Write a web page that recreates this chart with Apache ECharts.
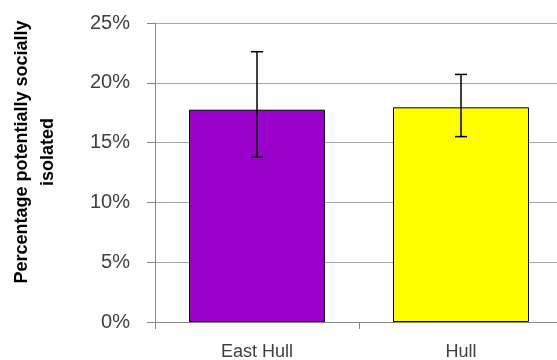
<!DOCTYPE html>
<html>
<head>
<meta charset="utf-8">
<script src="https://cdn.jsdelivr.net/npm/echarts@6/dist/echarts.min.js"></script>
<style>html,body{margin:0;padding:0;background:#fff;overflow:hidden}#c{width:563px;height:360px}</style>
</head>
<body>
<div id="c"></div>
<script>
const categories = ['East Hull', 'Hull'];
const values = [17.75, 17.95];
const errLow = [13.8, 15.5];
const errHigh = [22.6, 20.7];
const barColors = ['#9900CC', '#FFFF00'];
const yTicks = [0, 5, 10, 15, 20, 25];

const chart = echarts.init(document.getElementById('c'), null, {renderer: 'canvas'});
const axisGrey = '#888888';
chart.setOption({
  animation: false,
  backgroundColor: '#ffffff',
  grid: {left: 155, top: 23, right: 0, bottom: 38, outerBoundsMode: 'none'},
  xAxis: {
    type: 'category',
    data: categories,
    axisLine: {show: true, lineStyle: {color: axisGrey, width: 1}},
    axisTick: {show: true, length: 7, lineStyle: {color: axisGrey}},
    axisLabel: {color: '#404040', fontSize: 18, fontFamily: 'Liberation Sans', margin: 21}
  },
  yAxis: {
    type: 'value',
    min: yTicks[0], max: yTicks[yTicks.length - 1], interval: 5,
    axisLine: {show: true, lineStyle: {color: axisGrey, width: 1}},
    axisTick: {show: true, length: 8, lineStyle: {color: axisGrey}},
    splitLine: {show: true, lineStyle: {color: '#a6a6a6', width: 1}},
    axisLabel: {color: '#404040', fontSize: 20, fontFamily: 'Liberation Sans', margin: 25, formatter: '{value}%'}
  },
  graphic: [{
    type: 'text',
    x: 35, y: 152,
    rotation: Math.PI / 2,
    style: {
      text: 'Percentage potentially socially\nisolated',
      font: 'bold 18px "Liberation Sans"',
      fill: '#000000',
      align: 'center',
      verticalAlign: 'middle',
      lineHeight: 26
    }
  }],
  series: [{
    type: 'bar',
    barWidth: '66.67%',
    data: values.map((v, i) => ({value: v, itemStyle: {color: barColors[i], borderColor: '#000', borderWidth: 1}}))
  }, {
    type: 'custom',
    data: categories.map((c, i) => [i, errLow[i], errHigh[i]]),
    renderItem: function (params, api) {
      const lo = api.coord([api.value(0), api.value(1)]);
      const hi = api.coord([api.value(0), api.value(2)]);
      const hw = 6;
      const style = {stroke: '#000', lineWidth: 1.5};
      return {type: 'group', children: [
        {type: 'line', shape: {x1: hi[0], y1: hi[1], x2: lo[0], y2: lo[1]}, style: style},
        {type: 'line', shape: {x1: hi[0] - hw, y1: hi[1], x2: hi[0] + hw, y2: hi[1]}, style: style},
        {type: 'line', shape: {x1: lo[0] - hw, y1: lo[1], x2: lo[0] + hw, y2: lo[1]}, style: style}
      ]};
    },
    z: 10
  }]
});
</script>
</body>
</html>
